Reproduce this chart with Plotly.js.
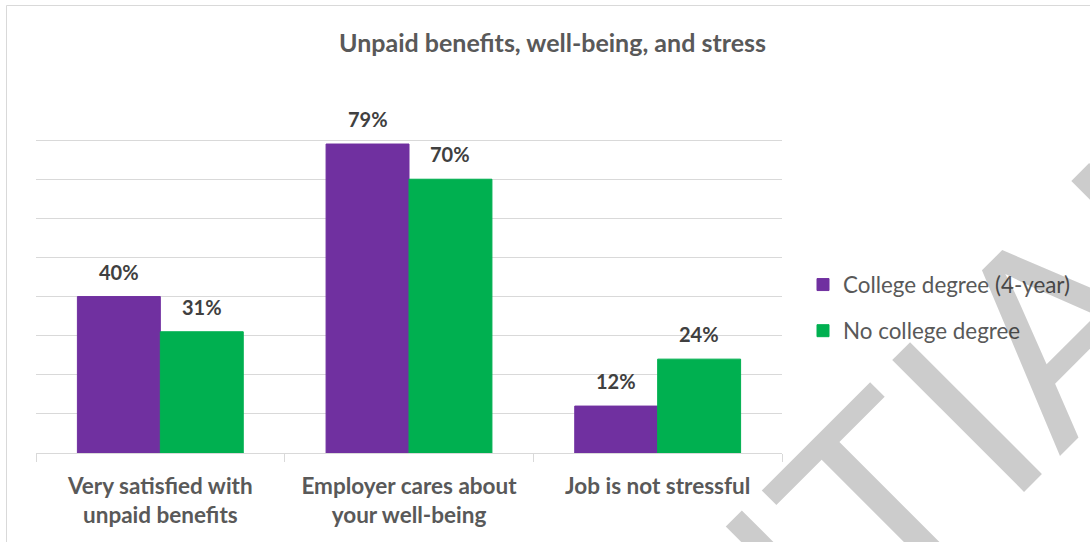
<!DOCTYPE html>
<html>
<head>
<meta charset="utf-8">
<script src="https://cdn.plot.ly/plotly-3.0.1.min.js"></script>
<style>
  html, body { margin: 0; padding: 0; background: #ffffff; }
  #chart { width: 1090px; height: 542px; }
</style>
</head>
<body>
<div id="chart"></div>
<script>
// ---- data ----
const categories = [
  'Very satisfied with<br>unpaid benefits',
  'Employer cares about<br>your well-being',
  'Job is not stressful'
];
const seriesNames = ['College degree (4-year)', 'No college degree'];
const collegeValues = [40, 79, 12];
const noCollegeValues = [31, 70, 24];
const chartTitle = 'Unpaid benefits, well-being, and stress';
const watermarkText = 'CONFIDENTIAL';

// ---- layout constants ----
const W = 1090, H = 542;
const M = { l: 36, r: 308, t: 101, b: 89 };
const BARGAP = 0.333;
const plotW = W - M.l - M.r;
const plotH = H - M.t - M.b;
const barW = plotW / categories.length * (1 - BARGAP) / 2;
const px = (x) => (x - M.l) / plotW;
const py = (y) => (H - M.b - y) / plotH;

const purple = '#7030A0';
const green = '#00B050';
const gridCol = '#d9d9d9';
const FONT = 'Lato, "Open Sans", sans-serif';

const series = [
  { name: seriesNames[0], values: collegeValues, color: purple },
  { name: seriesNames[1], values: noCollegeValues, color: green }
];

const traces = series.map((s, i) => ({
  type: 'bar',
  name: s.name,
  x: categories,
  y: s.values,
  marker: { color: s.color, line: { width: 1, color: s.color } },
  legendgroup: 'g' + i,
  hoverinfo: 'skip'
}));

// data labels above bars
const annotations = [];
series.forEach((s, i) => {
  const shift = (i === 0 ? -1 : 1) * barW / 2;
  s.values.forEach((v, j) => {
    annotations.push({
      x: categories[j], y: v, xref: 'x', yref: 'y',
      text: v + '%', showarrow: false,
      xanchor: 'center', yanchor: 'bottom',
      xshift: shift, yshift: 11,
      font: { family: FONT, size: 20, weight: 'bold', color: '#404040' }
    });
  });
});

// watermark
annotations.push({
  xref: 'paper', yref: 'paper',
  x: px(525), y: py(858),
  xanchor: 'center', yanchor: 'middle',
  text: watermarkText, showarrow: false, textangle: -45,
  font: { family: '"Liberation Sans", Arial, sans-serif', size: 271, color: 'rgba(0,0,0,0.2)' }
});

const layout = {
  width: W, height: H,
  margin: M,
  paper_bgcolor: '#ffffff',
  plot_bgcolor: '#ffffff',
  title: {
    text: chartTitle,
    xref: 'container', x: 552.5 / W, xanchor: 'center',
    yref: 'container', y: 1 - 43 / H, yanchor: 'middle',
    font: { family: FONT, size: 25, weight: 'bold', color: '#595959' }
  },
  barmode: 'group',
  bargap: BARGAP,
  bargroupgap: 0,
  xaxis: {
    type: 'category',
    showline: true, linecolor: gridCol, linewidth: 1,
    ticks: 'outside', tickson: 'boundaries', ticklen: 8, tickcolor: gridCol, tickwidth: 1,
    showgrid: false, zeroline: false,
    tickfont: { family: FONT, size: 22.5, weight: 'bold', color: '#595959' },
    ticklabelstandoff: 13,
    fixedrange: true
  },
  yaxis: {
    range: [0, 90], dtick: 10, tick0: 0,
    showgrid: true, gridcolor: gridCol, gridwidth: 1,
    zeroline: false, showline: false, showticklabels: false, ticks: '',
    fixedrange: true
  },
  showlegend: true,
  legend: {
    x: px(803), xanchor: 'left',
    y: py(308), yanchor: 'middle',
    traceorder: 'grouped', tracegroupgap: 14,
    font: { family: FONT, size: 22.4, color: '#595959' },
    bgcolor: 'rgba(0,0,0,0)'
  },
  shapes: [{
    type: 'rect', xref: 'paper', yref: 'paper', layer: 'below',
    x0: px(6.5), x1: 2,
    y0: -1, y1: py(5.5),
    line: { color: gridCol, width: 1 }, fillcolor: 'rgba(0,0,0,0)'
  }],
  annotations: annotations
};

Plotly.newPlot('chart', traces, layout, { displayModeBar: false, staticPlot: true });
</script>
</body>
</html>
